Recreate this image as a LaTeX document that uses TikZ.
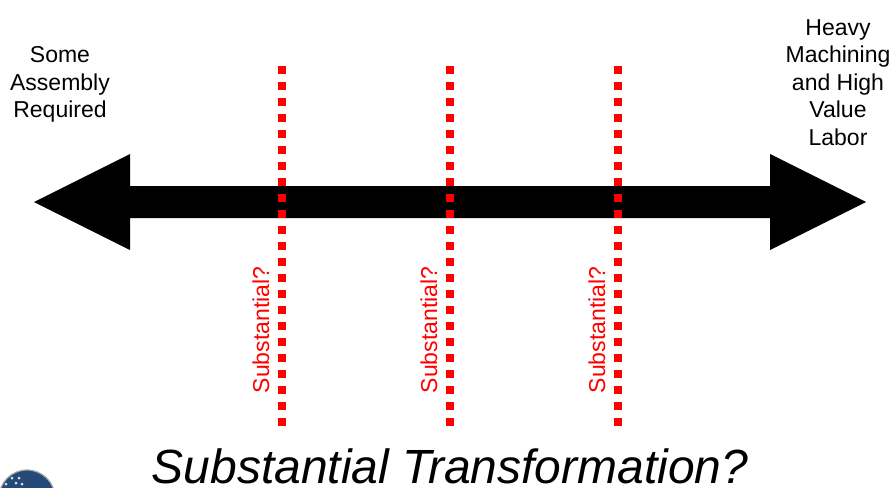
\documentclass[tikz,border=0pt]{standalone}
\usepackage{fontspec}
\setmainfont{Liberation Sans}
\definecolor{seal}{RGB}{38,74,120}
\definecolor{redline}{RGB}{255,0,0}
\tikzset{
  px/.style={x=1pt,y=-1pt},
  divider/.style={draw=redline,line width=8pt,dash pattern=on 8pt off 8pt},
  lbl/.style={font=\fontsize{23}{27.6}\selectfont,align=center,text=black,inner sep=0pt},
  sublbl/.style={font=\fontsize{23}{27}\selectfont,text=redline,rotate=90,inner sep=0pt,anchor=center},
  ttl/.style={font=\fontsize{48}{56}\selectfont\itshape,text=black,inner sep=0pt,anchor=base}
}
\begin{document}
\begin{tikzpicture}[px]
\useasboundingbox (0,0) rectangle (896,487);
\fill[white] (0,0) rectangle (896,487);
% logo, cut off by the lower edge
\begin{scope}
\clip (0,0) rectangle (896,487);
\fill[seal,draw=gray!70,line width=1.2pt] (27,498) circle (28);
\foreach \dx/\dy in {12/478,19/478,16/483,6/484,22/484}
  \fill[white!85!seal] (\dx,\dy) circle (1.5);
\end{scope}
% double arrow
\fill[black] (34,202) -- (130,154) -- (130,186) -- (770,186) -- (770,154) -- (866,202) -- (770,250) -- (770,218) -- (130,218) -- (130,250) -- cycle;
% dividers
\coordinate (a1) at (282,66); \coordinate (a2) at (282,427);
\coordinate (b1) at (450,66); \coordinate (b2) at (450,427);
\coordinate (c1) at (618,66); \coordinate (c2) at (618,427);
\draw[divider] (a1) -- (a2);
\draw[divider] (b1) -- (b2);
\draw[divider] (c1) -- (c2);
% labels
\node[sublbl] (s1) at (261,330) {Substantial?};
\node[sublbl] (s2) at (429,330) {Substantial?};
\node[sublbl] (s3) at (597,330) {Substantial?};
\node[lbl] (left) at (60,84.5) {Some\\Assembly\\Required};
\node[lbl] (right) at (838,82.5) {Heavy\\Machining\\and High\\Value\\Labor};
\node[ttl] (title) at (450,483) {Substantial Transformation?};
\end{tikzpicture}
\end{document}
